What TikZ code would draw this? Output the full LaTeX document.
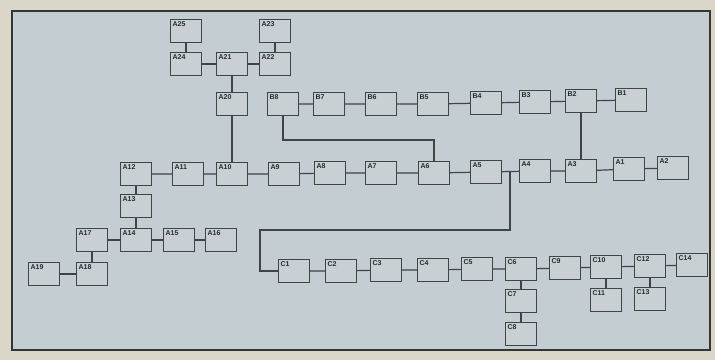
\documentclass[tikz,border=0pt]{standalone}
\usepackage{fontspec}
\setmainfont{Liberation Sans}
\begin{document}
\begin{tikzpicture}[x=1pt,y=-1pt,
  box/.style={draw=lineC, line width=1.2pt, fill=boxC, minimum width=31pt, minimum height=23pt, inner sep=0pt},
  lbl/.style={anchor=north west, inner sep=2.5pt, font=\fontsize{7}{8}\selectfont\bfseries, text=txtC},
  wire/.style={draw=lineC, line width=1.2pt}]
\definecolor{lineC}{HTML}{3F4445}
\definecolor{bgC}{HTML}{C4CDD1}
\definecolor{boxC}{HTML}{C8D0D3}
\definecolor{outC}{HTML}{DAD7C9}
\definecolor{txtC}{HTML}{262A2C}
\useasboundingbox (0,0) rectangle (715,360);
\fill[outC] (0,0) rectangle (715,360);
\filldraw[fill=bgC, draw=lineC!80!black, line width=1.8pt] (12,11) rectangle (710,350);
\newcommand{\bx}[3]{\node[box, label={[lbl]north west:#3}] (#1) at (#2) {};}
% top cluster
\bx{A25}{186,31}{A25}
\bx{A23}{275,31}{A23}
\bx{A24}{186,64}{A24}
\bx{A21}{232,64}{A21}
\bx{A22}{275,64}{A22}
\bx{A20}{232,104}{A20}
% B row
\bx{B8}{283,104}{B8}
\bx{B7}{329,104}{B7}
\bx{B6}{381,104}{B6}
\bx{B5}{433,104}{B5}
\bx{B4}{486,103}{B4}
\bx{B3}{535,102}{B3}
\bx{B2}{581,101}{B2}
\bx{B1}{631,100}{B1}
% A row
\bx{A12}{136,174}{A12}
\bx{A11}{188,174}{A11}
\bx{A10}{232,174}{A10}
\bx{A9}{284,174}{A9}
\bx{A8}{330,173}{A8}
\bx{A7}{381,173}{A7}
\bx{A6}{434,173}{A6}
\bx{A5}{486,172}{A5}
\bx{A4}{535,171}{A4}
\bx{A3}{581,171}{A3}
\bx{A1}{629,169}{A1}
\bx{A2}{673,168}{A2}
% left cluster
\bx{A13}{136,206}{A13}
\bx{A17}{92,240}{A17}
\bx{A14}{136,240}{A14}
\bx{A15}{179,240}{A15}
\bx{A16}{221,240}{A16}
\bx{A19}{44,274}{A19}
\bx{A18}{92,274}{A18}
% C row
\bx{C1}{294,271}{C1}
\bx{C2}{341,271}{C2}
\bx{C3}{386,270}{C3}
\bx{C4}{433,270}{C4}
\bx{C5}{477,269}{C5}
\bx{C6}{521,269}{C6}
\bx{C9}{565,268}{C9}
\bx{C10}{606,267}{C10}
\bx{C12}{650,266}{C12}
\bx{C14}{692,265}{C14}
\bx{C7}{521,301}{C7}
\bx{C8}{521,334}{C8}
\bx{C11}{606,300}{C11}
\bx{C13}{650,299}{C13}
% connectors
\draw[wire] (A25) -- (A24);
\draw[wire] (A24) -- (A21);
\draw[wire] (A21) -- (A22);
\draw[wire] (A23) -- (A22);
\draw[wire] (A21) -- (A20);
\draw[wire] (A20) -- (A10);
\draw[wire] (B8) -- (B7) -- (B6) -- (B5) -- (B4) -- (B3) -- (B2) -- (B1);
\coordinate (k1) at (283,140);
\draw[wire] (B8) -- (k1) -| (A6);
\draw[wire] (B2) -- (A3);
\draw[wire] (A12) -- (A11) -- (A10) -- (A9) -- (A8) -- (A7) -- (A6) -- (A5) -- (A4) -- (A3) -- (A1) -- (A2);
\draw[wire] (A12) -- (A13) -- (A14);
\draw[wire] (A17) -- (A14) -- (A15) -- (A16);
\draw[wire] (A17) -- (A18);
\draw[wire] (A19) -- (A18);
\coordinate (j1) at (510,171.5);
\coordinate (j2) at (510,230);
\coordinate (j3) at (260,230);
\draw[wire] (j1) -- (j2) -- (j3) |- (C1);
\draw[wire] (C1) -- (C2) -- (C3) -- (C4) -- (C5) -- (C6) -- (C9) -- (C10) -- (C12) -- (C14);
\draw[wire] (C6) -- (C7) -- (C8);
\draw[wire] (C10) -- (C11);
\draw[wire] (C12) -- (C13);
\end{tikzpicture}
\end{document}
